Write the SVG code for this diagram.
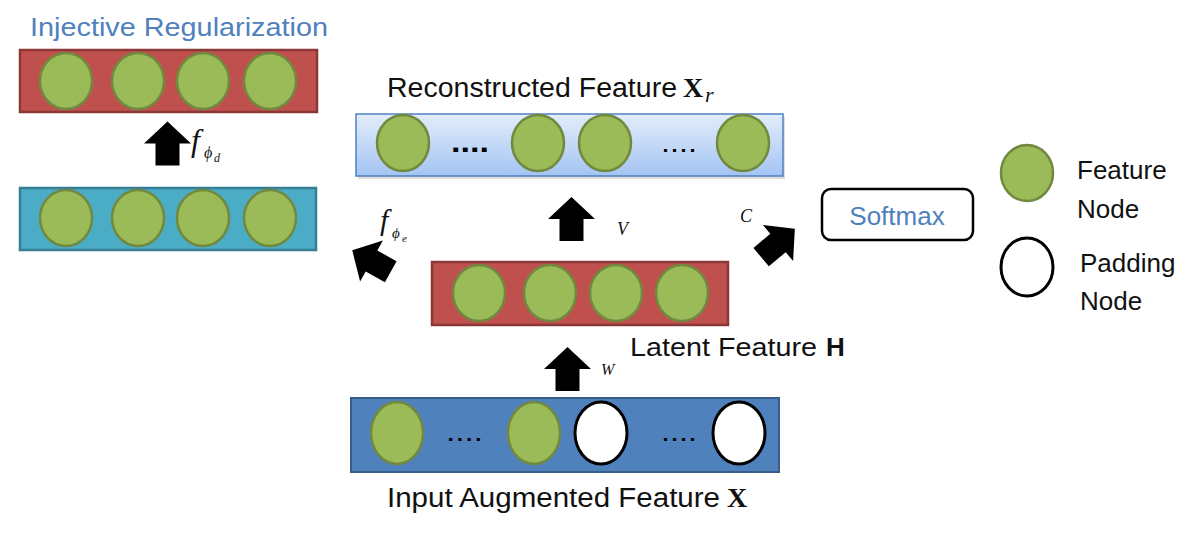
<svg xmlns="http://www.w3.org/2000/svg" width="1199" height="547" viewBox="0 0 1199 547">
<defs>
<linearGradient id="gXr" x1="0" y1="0" x2="0" y2="1">
<stop offset="0" stop-color="#E3EDFB"/>
<stop offset="1" stop-color="#A3C4F3"/>
</linearGradient>
<path id="blk" d="M0,-22 L23.5,0 L12,0 L12,22 L-12,22 L-12,0 L-23.5,0 Z"/>
</defs>
<style>
.fn{fill:#9BBB59;stroke:#71893F;stroke-width:2.5}
.pn{fill:#FFFFFF;stroke:#000000;stroke-width:3}
.sans{font-family:"Liberation Sans",Arial,sans-serif;fill:#111111}
.blue{fill:#4F81BD}
.serif{font-family:"Liberation Serif","Times New Roman",serif;fill:#111111}
.it{font-style:italic}
.bd{font-weight:bold}
.arr{fill:#000000}
.dots{font-family:"Liberation Sans",Arial,sans-serif;fill:#000000}
</style>
<rect width="1199" height="547" fill="#FFFFFF"/>

<text class="sans blue" x="30" y="36" font-size="26" textLength="298" lengthAdjust="spacingAndGlyphs">Injective Regularization</text>

<g id="decoded">
<rect x="20" y="50" width="297" height="62" fill="#C0504D" stroke="#8C3836" stroke-width="2.5"/>
<ellipse class="fn" cx="66" cy="81" rx="26" ry="28"/>
<ellipse class="fn" cx="138" cy="81" rx="26" ry="28"/>
<ellipse class="fn" cx="203" cy="81" rx="26" ry="28"/>
<ellipse class="fn" cx="270" cy="81" rx="26" ry="28"/>
</g>

<g id="encoded">
<rect x="20" y="188" width="296" height="62" fill="#4BACC6" stroke="#357E93" stroke-width="2.5"/>
<ellipse class="fn" cx="66" cy="218" rx="26" ry="28"/>
<ellipse class="fn" cx="138" cy="218" rx="26" ry="28"/>
<ellipse class="fn" cx="203" cy="218" rx="26" ry="28"/>
<ellipse class="fn" cx="270" cy="218" rx="26" ry="28"/>
</g>

<g id="reconstructed">
<rect x="358" y="117" width="427" height="62" fill="#C8C8C8" opacity="0.6"/>
<rect x="356" y="114" width="427" height="62" fill="url(#gXr)" stroke="#4F81BD" stroke-width="1.5"/>
<ellipse class="fn" cx="403" cy="143" rx="26" ry="28"/>
<text class="dots bd" x="451" y="152" font-size="30" textLength="38" lengthAdjust="spacingAndGlyphs">....</text>
<ellipse class="fn" cx="538" cy="143" rx="26" ry="28"/>
<ellipse class="fn" cx="605" cy="143" rx="26" ry="28"/>
<text class="dots" x="661" y="152" font-size="28" textLength="36" lengthAdjust="spacingAndGlyphs">....</text>
<ellipse class="fn" cx="743" cy="143" rx="26" ry="28"/>
<text class="sans" x="387" y="97" font-size="27" textLength="290" lengthAdjust="spacingAndGlyphs">Reconstructed Feature</text>
<text class="serif bd" x="683" y="97" font-size="28">X</text>
<text class="serif it" x="705" y="102" font-size="22">r</text>
</g>

<g id="latent">
<rect x="432" y="262" width="296" height="63" fill="#C0504D" stroke="#8C3836" stroke-width="2.5"/>
<ellipse class="fn" cx="479" cy="293" rx="26" ry="28"/>
<ellipse class="fn" cx="550" cy="293" rx="26" ry="28"/>
<ellipse class="fn" cx="616" cy="293" rx="26" ry="28"/>
<ellipse class="fn" cx="682" cy="293" rx="26" ry="28"/>
<text class="sans" x="630" y="356" font-size="26" textLength="187" lengthAdjust="spacingAndGlyphs">Latent Feature</text>
<text class="sans bd" x="826" y="356" font-size="26">H</text>
</g>

<g id="input">
<rect x="351" y="398" width="428" height="74" fill="#4F81BD" stroke="#385D8A" stroke-width="2"/>
<ellipse class="fn" cx="397" cy="433" rx="26" ry="31"/>
<text class="dots" x="446" y="441" font-size="28" textLength="37" lengthAdjust="spacingAndGlyphs">....</text>
<ellipse class="fn" cx="534" cy="433" rx="26" ry="31"/>
<ellipse class="pn" cx="601" cy="433" rx="26" ry="31"/>
<text class="dots" x="661" y="441" font-size="28" textLength="36" lengthAdjust="spacingAndGlyphs">....</text>
<ellipse class="pn" cx="739" cy="433" rx="26" ry="31"/>
<text class="sans" x="387" y="507" font-size="27" textLength="333" lengthAdjust="spacingAndGlyphs">Input Augmented Feature</text>
<text class="serif bd" x="727" y="507" font-size="28">X</text>
</g>

<g id="softmax">
<rect x="822" y="189" width="151" height="51" rx="9" ry="9" fill="#FFFFFF" stroke="#000000" stroke-width="2.5"/>
<text class="sans blue" x="897" y="225" font-size="26" text-anchor="middle">Softmax</text>
</g>

<g id="legend">
<ellipse class="fn" cx="1027" cy="173" rx="26" ry="28"/>
<text class="sans" x="1077" y="179" font-size="26">Feature</text>
<text class="sans" x="1077" y="218" font-size="26">Node</text>
<ellipse class="pn" cx="1027" cy="267" rx="26" ry="29"/>
<text class="sans" x="1080" y="272" font-size="26">Padding</text>
<text class="sans" x="1080" y="310" font-size="26">Node</text>
</g>

<g id="connectors">
<use href="#blk" class="arr" transform="translate(167.5,143.5)"/>
<use href="#blk" class="arr" transform="translate(371.5,261) rotate(-61)"/>
<use href="#blk" class="arr" transform="translate(571.5,219)"/>
<use href="#blk" class="arr" transform="translate(778,243) rotate(50)"/>
<use href="#blk" class="arr" transform="translate(567.5,369)"/>
<text class="serif it" x="191" y="151" font-size="32">f</text>
<text class="serif it" x="204" y="158" font-size="16">ϕ</text>
<text class="serif it" x="214" y="162" font-size="12">d</text>
<text class="serif it" x="380" y="230" font-size="30">f</text>
<text class="serif it" x="392" y="238" font-size="15">ϕ</text>
<text class="serif it" x="402" y="242" font-size="11">e</text>
<text class="serif it" x="617" y="235" font-size="18">V</text>
<text class="serif it" x="740" y="222" font-size="18">C</text>
<text class="serif it" x="601" y="375" font-size="16">W</text>
</g>
</svg>
